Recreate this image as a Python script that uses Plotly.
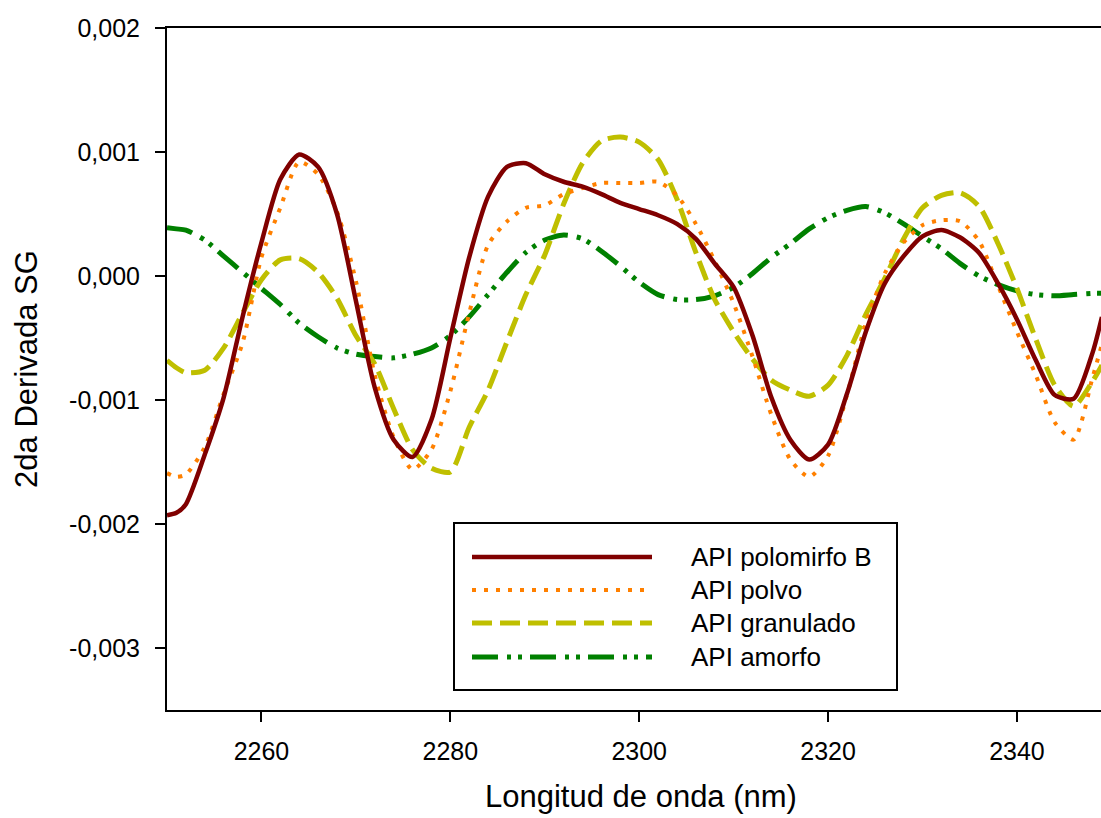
import plotly.graph_objects as go

# Wavelength grid (nm)
wavelength = [2250, 2251, 2252, 2254, 2256, 2258, 2260, 2262, 2264, 2266, 2268,
              2270, 2272, 2274, 2276, 2278, 2280, 2282, 2284, 2286, 2288,
              2290, 2292, 2294, 2296, 2298, 2300, 2302, 2304, 2306, 2308,
              2310, 2312, 2314, 2316, 2318, 2320, 2322, 2324, 2326, 2328,
              2330, 2332, 2334, 2336, 2338, 2340, 2342, 2344, 2346, 2348, 2349]

polomorfo_b = [-0.00193, -0.00191, -0.00184, -0.00144, -0.00098, -0.00033, 0.00027, 0.00078, 0.00098, 0.00088, 0.00050,
               -0.00020, -0.00090, -0.00132, -0.00146, -0.00116, -0.00050, 0.00015, 0.00064, 0.00088, 0.00091,
               0.00082, 0.00076, 0.00072, 0.00066, 0.00059, 0.00054, 0.00049, 0.00042, 0.00030, 0.00010,
               -0.00009, -0.00048, -0.00098, -0.00132, -0.00148, -0.00136, -0.00095, -0.00045, -0.00006, 0.00016,
               0.00032, 0.00037, 0.00031, 0.000185, -0.00006, -0.00035, -0.00068, -0.00096, -0.00099, -0.00062, -0.00033]

polvo = [-0.00159, -0.00162, -0.00160, -0.00138, -0.00095, -0.00054, 0.00015, 0.00055, 0.00092, 0.00082, 0.00052,
         -0.00004, -0.00080, -0.00130, -0.00156, -0.00140, -0.00093, -0.00030, 0.00025, 0.00044, 0.00055,
         0.00057, 0.00066, 0.00071, 0.00075, 0.00075, 0.00075, 0.00076, 0.00065, 0.00042, 0.00012,
         -0.00022, -0.00065, -0.00112, -0.00148, -0.00162, -0.00145, -0.00096, -0.00038, 0.00002, 0.00027,
         0.00041, 0.00045, 0.00044, 0.00028, -0.00008, -0.00045, -0.00080, -0.00118, -0.00132, -0.00082, -0.00055]

granulado = [-0.00068, -0.00074, -0.00078, -0.00076, -0.00058, -0.00030, -0.00003, 0.00013, 0.00014, 0.00003, -0.00018,
             -0.00048, -0.00071, -0.00107, -0.00140, -0.00155, -0.00158, -0.00122, -0.00092, -0.00053, -0.00015,
             0.00017, 0.00058, 0.00091, 0.00109, 0.00112, 0.00108, 0.00094, 0.00062, 0.00019, -0.00019,
             -0.00045, -0.00067, -0.00084, -0.00092, -0.00097, -0.00088, -0.00064, -0.00031, -0.00002, 0.00030,
             0.00055, 0.00065, 0.00067, 0.00056, 0.00026, -0.00010, -0.00051, -0.00088, -0.00105, -0.00085, -0.00072]

amorfo = [0.00039, 0.00038, 0.00037, 0.00029, 0.00016, 0.00003, -0.00010, -0.00023, -0.00038, -0.00049, -0.00058,
          -0.00063, -0.00065, -0.00066, -0.00063, -0.00058, -0.00048, -0.00033, -0.00015, 0.00003, 0.00019,
          0.00029, 0.00033, 0.00030, 0.00020, 0.00008, -0.00005, -0.00015, -0.00019, -0.00019, -0.00016,
          -0.00009, 0.00002, 0.00015, 0.00026, 0.00038, 0.00047, 0.00053, 0.00056, 0.00051, 0.00042,
          0.00032, 0.00022, 0.00010, 0.00000, -0.00007, -0.00012, -0.00015, -0.00016, -0.00015, -0.00014, -0.00014]

series_names = ["API polomirfo B", "API polvo", "API granulado", "API amorfo"]

x_tickvals = [2260, 2280, 2300, 2320, 2340]
x_ticktext = ["2260", "2280", "2300", "2320", "2340"]
y_tickvals = [-0.003, -0.002, -0.001, 0.0, 0.001, 0.002]
y_ticktext = ["-0,003", "-0,002", "-0,001", "0,000", "0,001", "0,002"]

styles = [
    dict(color="#800000", width=4.5, dash="solid"),
    dict(color="#FF8000", width=4, dash="4px,8px"),
    dict(color="#BFBF00", width=5, dash="20px,8px"),
    dict(color="#008000", width=5, dash="26px,9px,4px,7px,4px,8px"),
]

series_values = [polomorfo_b, polvo, granulado, amorfo]
draw_order = [3, 2, 1, 0]

fig = go.Figure()
for i in draw_order:
    fig.add_trace(go.Scatter(
        x=wavelength, y=series_values[i], mode="lines", name=series_names[i],
        line=dict(color=styles[i]["color"], width=styles[i]["width"],
                  dash=styles[i]["dash"], shape="spline", smoothing=0.7),
        showlegend=False,
    ))

# Figure pixel geometry
W, H = 1101, 818
L, R, T, B = 167, 0, 28, 108
PW, PH = W - L - R, H - T - B

def px_to_paper(px, py):
    return (px - L) / PW, (H - B - py) / PH

font_family = "Liberation Sans, Arial, sans-serif"

# Manual legend (box, samples, labels)
bx0, by0 = px_to_paper(454, 690)
bx1, by1 = px_to_paper(897, 523)
fig.add_shape(type="rect", xref="paper", yref="paper", x0=bx0, y0=by0, x1=bx1, y1=by1,
              line=dict(color="black", width=2), fillcolor="white", layer="above")
row_y = [557, 590, 623, 657]
for i, ry in enumerate(row_y):
    sx0, sy = px_to_paper(472, ry)
    sx1, _ = px_to_paper(652, ry)
    fig.add_shape(type="line", xref="paper", yref="paper", x0=sx0, y0=sy, x1=sx1, y1=sy,
                  line=dict(color=styles[i]["color"], width=styles[i]["width"], dash=styles[i]["dash"]),
                  layer="above")
    tx, ty = px_to_paper(689, ry)
    fig.add_annotation(xref="paper", yref="paper", x=tx, y=ty, text=series_names[i],
                       showarrow=False, xanchor="left", yanchor="middle",
                       font=dict(family=font_family, size=26, color="black"))

# x-axis title placed as annotation (kept fully inside the page)
xt, yt = px_to_paper(641, 816)
fig.add_annotation(xref="paper", yref="paper", x=xt, y=yt, text="Longitud de onda (nm)",
                   showarrow=False, xanchor="center", yanchor="bottom",
                   font=dict(family=font_family, size=31, color="black"))

fig.update_layout(
    width=W, height=H,
    margin=dict(l=L, r=R, t=T, b=B, autoexpand=False),
    paper_bgcolor="white", plot_bgcolor="white",
    font=dict(family=font_family, size=25, color="black"),
    xaxis=dict(
        range=[2250, 2348.9], tickvals=x_tickvals, ticktext=x_ticktext,
        showline=True, linecolor="black", linewidth=2, mirror=True,
        ticks="outside", ticklen=10, tickwidth=2, tickcolor="black",
        showgrid=False, zeroline=False, ticklabelstandoff=8,
        tickfont=dict(size=25),
        automargin=False,
    ),
    yaxis=dict(
        range=[-0.0035, 0.002], tickvals=y_tickvals, ticktext=y_ticktext,
        showline=True, linecolor="black", linewidth=2,
        ticks="outside", ticklen=10, tickwidth=2, tickcolor="black",
        showgrid=False, zeroline=False, ticklabelstandoff=10,
        tickfont=dict(size=25),
        title=dict(text="2da Derivada SG", font=dict(size=31), standoff=22),
        automargin=False,
    ),
)

fig.write_html("out.html")
